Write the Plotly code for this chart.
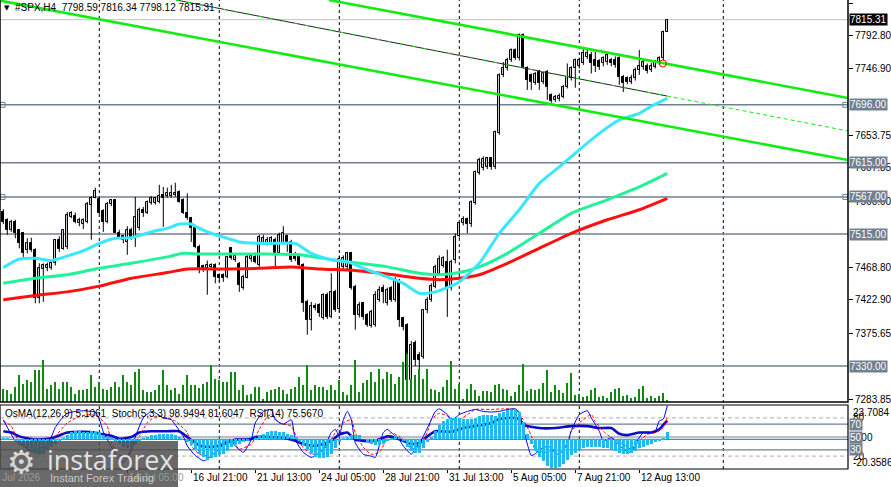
import plotly.graph_objects as go

# ---------------- #SPX H4 candles ----------------
bar_open = [7546, 7534, 7521, 7532, 7520, 7516, 7492, 7502, 7493, 7425,
            7466, 7467, 7468, 7474, 7506, 7494, 7497, 7539, 7540, 7530,
            7529, 7532, 7556, 7566, 7564, 7547, 7532, 7557, 7563, 7516,
            7512, 7504, 7521, 7510, 7524, 7549, 7545, 7558, 7558, 7560,
            7570, 7569, 7569, 7570, 7574, 7563, 7544, 7537, 7523, 7497,
            7470, 7467, 7469, 7471, 7457, 7457, 7455, 7495, 7479, 7473,
            7440, 7454, 7480, 7483, 7472, 7503, 7502, 7502, 7507, 7488,
            7502, 7512, 7504, 7487, 7485, 7472, 7420, 7395, 7414, 7416,
            7397, 7430, 7399, 7434, 7410, 7469, 7469, 7488, 7441, 7402,
            7418, 7402, 7386, 7388, 7423, 7439, 7418, 7439, 7423, 7448,
            7397, 7387, 7311, 7362, 7346, 7343, 7408, 7422, 7441, 7459,
            7470, 7476, 7439, 7478, 7512, 7530, 7536, 7529, 7558, 7600,
            7608, 7609, 7621, 7609, 7656, 7738, 7747, 7759, 7773, 7761,
            7794, 7747, 7738, 7727, 7742, 7728, 7742, 7710, 7703, 7704,
            7707, 7721, 7733, 7747, 7750, 7754, 7763, 7766, 7759, 7757,
            7754, 7756, 7759, 7759, 7761, 7735, 7733, 7728, 7734, 7745,
            7749, 7750, 7745, 7749, 7756, 7761, 7798.59]
bar_high = [7550, 7537, 7535, 7535, 7521, 7518, 7509, 7510, 7495, 7474,
            7474, 7475, 7478, 7508, 7512, 7522, 7546, 7547, 7545, 7538,
            7537, 7560, 7568, 7580, 7568, 7550, 7560, 7564, 7564, 7521,
            7513, 7526, 7524, 7567, 7552, 7553, 7562, 7568, 7567, 7584,
            7581, 7580, 7584, 7587, 7576, 7565, 7572, 7539, 7525, 7500,
            7472, 7478, 7474, 7474, 7460, 7460, 7484, 7497, 7488, 7476,
            7458, 7486, 7487, 7489, 7514, 7514, 7511, 7512, 7510, 7517,
            7526, 7514, 7507, 7490, 7488, 7474, 7423, 7420, 7418, 7418,
            7432, 7433, 7460, 7437, 7485, 7485, 7490, 7490, 7444, 7420,
            7420, 7404, 7409, 7435, 7442, 7444, 7440, 7442, 7455, 7452,
            7399, 7390, 7365, 7366, 7350, 7410, 7427, 7446, 7472, 7485,
            7484, 7493, 7479, 7516, 7532, 7540, 7538, 7562, 7604, 7622,
            7624, 7623, 7623, 7660, 7740, 7756, 7762, 7775, 7775, 7796,
            7796, 7750, 7740, 7742, 7745, 7742, 7745, 7712, 7710, 7712,
            7724, 7754, 7750, 7761, 7762, 7775, 7775, 7770, 7770, 7760,
            7764, 7770, 7762, 7764, 7764, 7738, 7736, 7738, 7748, 7773,
            7760, 7754, 7755, 7759, 7764, 7800, 7816.34]
bar_low = [7529, 7514, 7518, 7509, 7495, 7483, 7488, 7490, 7418, 7418,
           7420, 7463, 7465, 7471, 7490, 7493, 7494, 7537, 7530, 7526,
           7522, 7530, 7507, 7565, 7543, 7518, 7530, 7554, 7516, 7508,
           7502, 7486, 7507, 7497, 7520, 7539, 7543, 7556, 7556, 7558,
           7525, 7566, 7566, 7567, 7559, 7543, 7535, 7504, 7495, 7460,
           7462, 7430, 7466, 7446, 7448, 7448, 7453, 7479, 7476, 7434,
           7437, 7453, 7476, 7474, 7469, 7500, 7499, 7500, 7469, 7486,
           7500, 7490, 7476, 7477, 7470, 7406, 7374, 7380, 7408, 7399,
           7395, 7396, 7397, 7406, 7405, 7466, 7465, 7437, 7381, 7398,
           7395, 7385, 7384, 7385, 7420, 7418, 7415, 7420, 7420, 7385,
           7380, 7308, 7306, 7330, 7322, 7340, 7404, 7420, 7439, 7457,
           7468, 7399, 7436, 7474, 7510, 7527, 7516, 7525, 7556, 7598,
           7604, 7606, 7605, 7606, 7654, 7735, 7744, 7756, 7759, 7758,
           7747, 7717, 7717, 7724, 7717, 7725, 7703, 7699, 7700, 7701,
           7705, 7719, 7730, 7720, 7747, 7752, 7760, 7740, 7742, 7745,
           7750, 7752, 7750, 7748, 7724, 7714, 7725, 7725, 7730, 7738,
           7745, 7740, 7742, 7747, 7752, 7758, 7798.12]
bar_close = [7532, 7521, 7532, 7516, 7502, 7488, 7502, 7493, 7425, 7467,
             7472, 7471, 7475, 7506, 7494, 7521, 7542, 7544, 7532, 7535,
             7534, 7557, 7566, 7575, 7545, 7532, 7557, 7563, 7517, 7509,
             7507, 7521, 7509, 7539, 7549, 7544, 7560, 7565, 7565, 7569,
             7565, 7573, 7573, 7573, 7560, 7544, 7537, 7523, 7497, 7467,
             7466, 7471, 7471, 7455, 7454, 7454, 7483, 7482, 7484, 7444,
             7455, 7483, 7484, 7476, 7511, 7510, 7507, 7509, 7488, 7514,
             7516, 7503, 7479, 7480, 7472, 7418, 7395, 7414, 7411, 7404,
             7430, 7399, 7434, 7409, 7480, 7481, 7488, 7439, 7402, 7416,
             7399, 7388, 7406, 7430, 7436, 7434, 7437, 7423, 7451, 7395,
             7385, 7311, 7360, 7339, 7339, 7408, 7423, 7442, 7469, 7480,
             7481, 7439, 7476, 7511, 7530, 7536, 7529, 7560, 7602, 7619,
             7620, 7621, 7609, 7658, 7738, 7747, 7759, 7773, 7761, 7794,
             7749, 7731, 7728, 7739, 7726, 7740, 7721, 7701, 7707, 7708,
             7721, 7735, 7747, 7759, 7759, 7768, 7768, 7754, 7750, 7749,
             7761, 7766, 7754, 7752, 7735, 7726, 7728, 7734, 7745, 7750,
             7756, 7743, 7750, 7756, 7762, 7798, 7815.31]
tick_volume = [400, 350, 250, 450, 800, 550, 650, 600, 950, 950,
               1250, 400, 500, 600, 400, 600, 600, 450, 250, 350,
               350, 380, 800, 450, 600, 380, 350, 450, 600, 450,
               820, 600, 500, 900, 1000, 350, 300, 300, 350, 500,
               950, 500, 350, 420, 250, 500, 800, 500, 500, 420,
               550, 600, 1100, 700, 650, 600, 600, 900, 900, 350,
               500, 200, 250, 450, 450, 100, 300, 350, 400, 450,
               350, 250, 400, 450, 750, 520, 1100, 350, 520, 450,
               450, 350, 520, 350, 650, 300, 200, 500, 1250, 300,
               580, 650, 900, 600, 1000, 700, 900, 850, 550, 750,
               1200, 1450, 700, 800, 1000, 700, 1000, 400, 350, 300,
               450, 650, 1220, 400, 550, 100, 400, 530, 370, 170,
               320, 320, 290, 500, 530, 400, 350, 170, 290, 500,
               1130, 320, 400, 350, 380, 580, 970, 290, 500, 370,
               260, 560, 860, 220, 250, 140, 170, 370, 430, 140,
               190, 110, 290, 380, 430, 170, 220, 110, 140, 400,
               470, 110, 190, 110, 170, 260, 50]

# moving averages, sampled along each curve (bar index -> price)
ma_fast_bar = [0, 4, 8, 12, 17, 21, 24, 28, 32, 37, 41, 44, 47, 49, 53, 56, 59, 64, 69, 73,
               77, 82, 86, 91, 96, 100, 104, 108, 111, 114, 119, 124, 129, 134, 139, 144,
               149, 154, 159, 162, 166]
ma_fast = [7468, 7480, 7481, 7478, 7486, 7494, 7502, 7509, 7510, 7518, 7523, 7529, 7529,
           7523, 7514, 7509, 7504, 7502, 7502, 7502, 7488, 7479, 7476, 7465, 7455, 7446,
           7432, 7434, 7440, 7448, 7474, 7516, 7549, 7586, 7609, 7633, 7656, 7675, 7684,
           7694, 7705]
ma_mid_bar = [0, 8, 16, 24, 32, 41, 45, 49, 56, 64, 74, 82, 89, 96, 104, 109, 114, 119,
              126, 134, 142, 151, 159, 166]
ma_mid = [7446, 7453, 7458, 7467, 7474, 7483, 7488, 7487, 7487, 7487, 7486, 7479, 7474,
          7469, 7460, 7458, 7461, 7469, 7488, 7516, 7544, 7563, 7581, 7600]
ma_slow_bar = [0, 8, 16, 24, 32, 41, 46, 56, 64, 72, 79, 88, 96, 104, 109, 114, 119, 126,
               134, 142, 151, 159, 166]
ma_slow = [7423, 7429, 7434, 7442, 7453, 7461, 7466, 7466, 7467, 7469, 7466, 7464, 7459,
           7453, 7451, 7453, 7458, 7474, 7495, 7516, 7535, 7549, 7565]

# drawn objects
levels = [7696.00, 7615.00, 7567.00, 7515.00, 7330.00]
last_price = 7815.31
upper_bar, upper_px = [81.4, 211.2], [7842.9, 7705.6]
lower_bar, lower_px = [-1.6, 211.2], [7842.9, 7618.7]
mid_bar, mid_px = [43.2, 165.9], [7842.9, 7708.4]
mid_ext_bar, mid_ext_px = [165.9, 211.2], [7708.4, 7659.4]
alert_bar, alert_px = [164.9], [7754]

# oscillators
osma = [1, 1, 0, -2, -4, -5, -6, -8, -10, -11, -10, -7, -5, -3, -1, 1, 3, 5, 6, 6,
        5, 5, 6, 6, 5, 3, 2, 1, -1, -3, -5, -6, -5, -3, -1, 1, 2, 3, 3, 4,
        4, 4, 4, 3, 2, 0, -2, -4, -7, -10, -12, -14, -13, -12, -11, -10, -8, -5, -4, -3,
        -2, -1, 0, 1, 3, 4, 5, 6, 6, 5, 5, 4, 3, 2, -1, -4, -7, -10, -12, -13,
        -13, -12, -10, -6, -2, 1, 2, 3, 3, 3, 0, -2, -3, -4, -4, -3, -1, 1, 3, 2,
        -1, -5, -8, -9, -9, -6, -2, 2, 6, 10, 13, 14, 15, 15, 15, 14, 14, 14, 15, 16,
        17, 17, 17, 16, 18, 19, 20, 20, 20, 19, 12, 4, -3, -8, -12, -15, -18, -20, -20, -19,
        -17, -14, -11, -9, -7, -6, -5, -5, -5, -5, -6, -6, -7, -8, -9, -10, -10, -9, -8, -6,
        -5, -4, -3, -2, -1, 1, 5.1061]
stoch_bar = [0, 3, 5, 7, 9, 10, 12, 13, 15, 16, 18, 20, 22, 23, 24, 25, 27, 29, 30, 32,
             33, 35, 37, 38, 40, 42, 43, 45, 46, 48, 50, 51, 52, 54, 56, 57, 58, 60, 62, 63,
             65, 67, 68, 70, 72, 73, 75, 77, 78, 80, 82, 83, 84, 85, 86, 87, 88, 90, 92, 93,
             95, 96, 97, 98, 99, 100, 102, 103, 105, 107, 108, 109, 111, 112, 114, 116, 118, 120, 122, 124,
             126, 128, 129, 130, 131, 132, 133, 135, 137, 138, 139, 141, 142, 144, 146, 147, 149, 150, 152, 153,
             155, 157, 158, 160, 162, 163, 164, 165, 166]
stoch_main = [77, 44, 36, 28, 26, 27, 50, 65, 82, 87, 90, 91, 90, 89, 78, 58, 35, 14, 10, 31,
              50, 80, 90, 88, 80, 77, 69, 51, 36, 21, 13, 15, 21, 31, 46, 44, 36, 26, 46, 72,
              90, 93, 77, 70, 77, 46, 26, 18, 21, 31, 57, 62, 52, 77, 90, 77, 41, 23, 20, 18,
              57, 62, 57, 51, 46, 36, 23, 31, 51, 77, 90, 94, 85, 76, 85, 90, 93, 90, 89, 90,
              93, 94, 89, 64, 39, 21, 24, 34, 34, 24, 23, 39, 60, 85, 91, 80, 59, 44, 49, 44,
              31, 26, 39, 57, 57, 59, 75, 78, 98.9494]
signal_bar = [0, 2, 4, 7, 11, 13, 16, 19, 22, 24, 26, 27, 29, 31, 32, 34, 36, 38, 41, 43,
              46, 47, 49, 52, 54, 57, 59, 62, 64, 66, 67, 69, 71, 72, 74, 77, 79, 82, 83, 85,
              87, 88, 90, 92, 94, 96, 97, 99, 101, 102, 104, 106, 107, 109, 112, 113, 116, 118, 122, 125,
              128, 130, 132, 133, 136, 138, 141, 142, 144, 147, 148, 150, 152, 155, 157, 159, 161, 163, 165, 166]
stoch_signal = [75, 67, 41, 31, 36, 51, 72, 82, 85, 80, 67, 41, 22, 16, 28, 51, 72, 82, 80, 75,
                57, 36, 23, 20, 28, 45, 31, 39, 62, 82, 85, 72, 69, 67, 41, 23, 23, 46, 57, 72,
                77, 57, 34, 23, 26, 49, 57, 51, 41, 31, 36, 57, 77, 87, 80, 74, 85, 93, 93, 94,
                93, 77, 52, 29, 26, 31, 39, 59, 72, 85, 74, 59, 49, 39, 31, 44, 54, 57, 64, 81.6047]
rsi_bar = [0, 2, 4, 8, 12, 16, 20, 23, 24, 27, 29, 32, 34, 37, 41, 44, 46, 48, 50, 53,
           56, 58, 60, 62, 63, 67, 70, 73, 75, 78, 80, 82, 84, 86, 88, 90, 93, 96, 98, 100,
           102, 104, 106, 108, 112, 115, 118, 122, 124, 127, 129, 130, 134, 138, 142, 146, 149, 152, 154, 156,
           159, 162, 164, 165, 166]
rsi = [59, 57, 51, 46, 48, 57, 58, 57, 55, 52, 47, 50, 57, 59, 59, 59, 50, 41, 35, 35,
       41, 46, 46, 47, 50, 50, 49, 44, 39, 36, 39, 44, 54, 57, 46, 44, 44, 51, 49, 44,
       39, 41, 51, 59, 58, 64, 67, 72, 78, 80, 78, 69, 64, 64, 67, 67, 64, 64, 55, 53,
       57, 57, 62, 69, 75.567]

# axis labels
price_ticks = [7838.70, 7792.80, 7746.90, 7653.75, 7607.85, 7560.00, 7468.80, 7422.90, 7375.65, 7283.85]
time_label_bar = [-0.8, 31, 47, 63, 79, 95, 111, 127, 143, 159]
time_label_text = ["5 Jul 2026", "14 Jul 05:00", "16 Jul 21:00", "21 Jul 13:00", "24 Jul 05:00",
                   "28 Jul 21:00", "31 Jul 13:00", "5 Aug 05:00", "7 Aug 21:00", "12 Aug 13:00"]
grid_bar = [24, 54, 84, 114, 144, 180]

# ---------------- geometry ----------------
W, H = 891, 487
MB = 18
PH = H - MB


def py(px):
    return (PH - px) / PH


FONT = "Liberation Sans"
SLATE = "#708090"
X_RANGE = [-0.825, 211.175]
P_RANGE = [7279.7, 7842.9]

fig = go.Figure()

# volumes
fig.add_trace(go.Bar(x=list(range(len(tick_volume))), y=tick_volume, width=0.28,
                     marker=dict(color="#118811", line=dict(width=0)), yaxis="y3"))

# wicks
wx, wy = [], []
for i in range(len(bar_close)):
    wx += [i, i, None]
    wy += [bar_low[i], bar_high[i], None]
fig.add_trace(go.Scatter(x=wx, y=wy, mode="lines", line=dict(color="black", width=1)))

# bodies
for up in (True, False):
    ids = [i for i in range(len(bar_close)) if (bar_close[i] >= bar_open[i]) == up]
    fig.add_trace(go.Bar(
        x=ids,
        base=[min(bar_open[i], bar_close[i]) for i in ids],
        y=[max(abs(bar_close[i] - bar_open[i]), 0.8) for i in ids],
        width=0.55,
        marker=dict(color="white" if up else "black", line=dict(color="black", width=1)),
    ))

# moving averages
for bx, vals, col in ((ma_slow_bar, ma_slow, "#ff1010"),
                      (ma_mid_bar, ma_mid, "#22f29a"),
                      (ma_fast_bar, ma_fast, "#38e8ff")):
    fig.add_trace(go.Scatter(x=bx, y=vals, mode="lines",
                             line=dict(color=col, width=3, shape="spline", smoothing=0.6)))

# channel
for bx, vals in ((upper_bar, upper_px), (lower_bar, lower_px)):
    fig.add_trace(go.Scatter(x=bx, y=vals, mode="lines", line=dict(color="#10ee10", width=2.6)))
fig.add_trace(go.Scatter(x=mid_bar, y=mid_px, mode="lines", line=dict(color="#222222", width=1)))
fig.add_trace(go.Scatter(x=mid_bar, y=mid_px, mode="lines",
                         line=dict(color="#10ee10", width=1, dash="3px,9px")))
fig.add_trace(go.Scatter(x=mid_ext_bar, y=mid_ext_px, mode="lines",
                         line=dict(color="#10ee10", width=1, dash="4px,3px")))
fig.add_trace(go.Scatter(x=alert_bar, y=alert_px, mode="markers",
                         marker=dict(symbol="circle-open", size=7, color="red", line=dict(width=1))))
# line handles
fig.add_trace(go.Scatter(x=[-0.2, -0.2, 210.5, 210.5], y=[levels[0], levels[2], levels[0], levels[2]],
                         mode="markers",
                         marker=dict(symbol="square-open", size=5, color=SLATE, line=dict(width=1))))

# oscillators
fig.add_trace(go.Bar(x=list(range(len(osma))), y=osma, width=0.7,
                     marker=dict(color="#22b8f2", line=dict(width=0)), yaxis="y4"))
fig.add_trace(go.Scatter(x=rsi_bar, y=rsi, mode="lines", yaxis="y2",
                         line=dict(color="#0c0cc8", width=2.6, shape="spline", smoothing=0.5)))
fig.add_trace(go.Scatter(x=signal_bar, y=stoch_signal, mode="lines", yaxis="y2",
                         line=dict(color="#ff0000", width=1, dash="3px,2px", shape="spline", smoothing=0.5)))
fig.add_trace(go.Scatter(x=stoch_bar, y=stoch_main, mode="lines", yaxis="y2",
                         line=dict(color="#0000ff", width=1, shape="spline", smoothing=0.5)))

shapes = []
main_dom = [py(402), 1]
ind_dom = [0, py(405)]
for b in grid_bar:
    shapes.append(dict(type="line", xref="x", yref="paper", x0=b, x1=b, y0=0, y1=1,
                       line=dict(color="black", width=1, dash="3px,3px"), layer="below"))
for lv in levels:
    shapes.append(dict(type="line", xref="paper", yref="y", x0=0, x1=1, y0=lv, y1=lv,
                       line=dict(color=SLATE, width=1.5), layer="below"))
shapes.append(dict(type="line", xref="paper", yref="y", x0=0, x1=1, y0=last_price, y1=last_price,
                   line=dict(color="#c0c0c0", width=1), layer="below"))
for lv, col, dash in ((80, "#c0c0c0", "4px,3px"), (70, SLATE, "solid"), (50, SLATE, "solid"),
                      (30, SLATE, "solid"), (20, "#c0c0c0", "4px,3px")):
    shapes.append(dict(type="line", xref="paper", yref="y2", x0=0, x1=1, y0=lv, y1=lv,
                       line=dict(color=col, width=1.2, dash=dash), layer="below"))
shapes.append(dict(type="line", xref="paper", yref="y4", x0=0, x1=1, y0=0, y1=0,
                   line=dict(color=SLATE, width=1.2), layer="below"))
shapes.append(dict(type="rect", xref="paper", yref="paper", x0=0, x1=1, y0=main_dom[0], y1=1.01,
                   line=dict(color="black", width=1.5)))
shapes.append(dict(type="rect", xref="paper", yref="paper", x0=0, x1=1, y0=0, y1=ind_dom[1],
                   line=dict(color="black", width=1.2)))
# watermark box
shapes.append(dict(type="rect", xref="paper", yref="paper", x0=0, x1=178 / 848, y0=py(441), y1=py(487),
                   fillcolor="rgba(72,72,72,0.82)", line=dict(width=0), layer="above"))

ann = []
small = dict(family=FONT, size=10, color="black")
ann.append(dict(xref="paper", yref="paper", x=2 / 848, y=py(8), text="▼", showarrow=False,
                xanchor="left", yanchor="middle", font=dict(family="DejaVu Sans", size=7, color="black")))
ann.append(dict(xref="paper", yref="paper", x=13 / 848, y=py(8),
                text="#SPX,H4  7798.59 7816.34 7798.12 7815.31", showarrow=False,
                xanchor="left", yanchor="middle", font=small))
ann.append(dict(xref="paper", yref="paper", x=3 / 848, y=py(413),
                text="OsMA(12,26,9) 5.1061  Stoch(5,3,3) 98.9494 81.6047  RSI(14) 75.5670",
                showarrow=False, xanchor="left", yanchor="middle", font=small))
for lv in levels:
    ann.append(dict(xref="paper", yref="y", x=1, y=lv, text=f"{lv:.2f}", showarrow=False,
                    xanchor="left", xshift=1, yanchor="middle", bgcolor=SLATE, borderpad=0,
                    font=dict(family=FONT, size=10, color="white")))
ann.append(dict(xref="paper", yref="y", x=1, y=last_price, text=f"{last_price:.2f}", showarrow=False,
                xanchor="left", xshift=1, yanchor="middle", bgcolor="black", borderpad=0,
                font=dict(family=FONT, size=10, color="white")))
# oscillator scale labels
for txt, v in (("80", 80), ("23.7084", 89), ("20", 20), ("-20.3586", 9.5), ("0.00", 49)):
    ann.append(dict(xref="paper", yref="y2", x=1, y=v, text=txt, showarrow=False, xanchor="left",
                    xshift=3, yanchor="middle", font=small))
for v in (70, 50, 30):
    ann.append(dict(xref="paper", yref="y2", x=1, y=v, text=str(v), showarrow=False, xanchor="left",
                    xshift=1, yanchor="middle", bgcolor=SLATE, borderpad=0,
                    font=dict(family=FONT, size=10, color="white")))
for b, txt in zip(time_label_bar, time_label_text):
    hidden = b < 40
    ann.append(dict(xref="x", yref="paper", x=b, y=py(478), text=txt, showarrow=False,
                    xanchor="left", yanchor="middle", xshift=-8 if b < 0 else 0,
                    font=dict(family=FONT, size=10, color="#9a9a9a" if hidden else "black")))
# watermark
ann.append(dict(xref="paper", yref="paper", x=5 / 848, y=py(462), text="⚙", showarrow=False,
                xanchor="left", yanchor="middle",
                font=dict(family="DejaVu Sans", size=32, color="rgba(230,230,230,0.9)")))
ann.append(dict(xref="paper", yref="paper", x=45 / 848, y=py(459), text="instaforex", showarrow=False,
                xanchor="left", yanchor="middle",
                font=dict(family="Open Sans", size=27, color="rgba(236,236,236,0.95)")))
ann.append(dict(xref="paper", yref="paper", x=48 / 848, y=py(478), text="Instant Forex Trading",
                showarrow=False, xanchor="left", yanchor="middle",
                font=dict(family=FONT, size=11, color="rgba(210,210,210,0.95)")))

fig.update_layout(
    width=W, height=H, autosize=False,
    margin=dict(l=0, r=43, t=0, b=MB),
    paper_bgcolor="white", plot_bgcolor="white",
    showlegend=False, barmode="overlay", bargap=0,
    xaxis=dict(domain=[0, 1], range=X_RANGE, anchor="y2", showgrid=False, zeroline=False,
               tickvals=time_label_bar[1:], showticklabels=False, ticks="outside", ticklen=3,
               tickcolor="black"),
    yaxis=dict(domain=main_dom, range=P_RANGE, side="right", anchor="x", showgrid=False,
               zeroline=False, tickvals=price_ticks, ticktext=[f"{t:.2f}" for t in price_ticks],
               ticks="outside", ticklen=4, tickcolor="black", tickfont=small),
    yaxis3=dict(overlaying="y", range=[0, 12060], visible=False),
    yaxis2=dict(domain=ind_dom, range=[0, 100], anchor="x", visible=False),
    yaxis4=dict(overlaying="y2", range=[-20.3586, 23.7084], visible=False),
    shapes=shapes, annotations=ann,
)

# page has a default 8px body margin; drop it so the figure sits at the window corner
fig.write_html("out.html", config={"displayModeBar": False},
               post_script="document.body.style.margin='0px';document.body.style.overflow='hidden';")
